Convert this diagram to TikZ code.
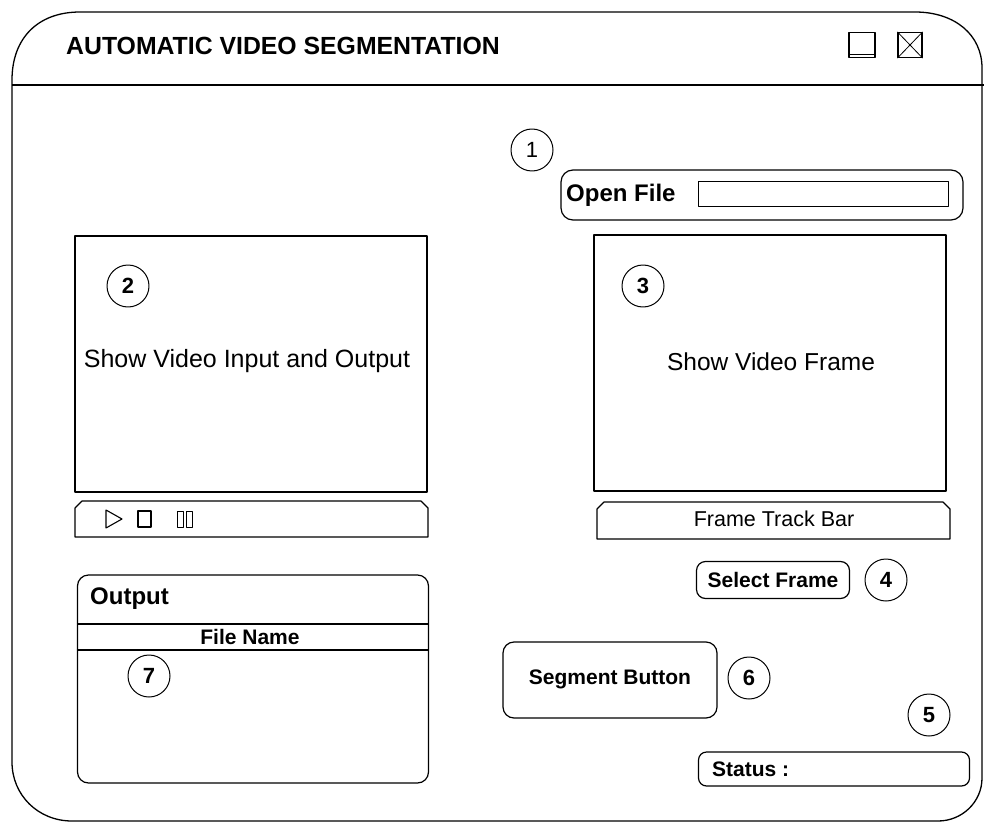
\documentclass[tikz,border=0pt]{standalone}
\usepackage{fontspec}
\setmainfont{Liberation Sans}
\newcommand\pxfont[1]{\fontsize{#1}{#1}\selectfont}
\tikzset{
  frame/.style={line width=1.3pt},
  panel/.style={draw, line width=1.2pt, inner sep=0pt},
  btn/.style={draw, rounded corners=9pt, line width=1.2pt, inner sep=0pt},
  field/.style={draw, line width=0.8pt, inner sep=0pt},
  num/.style={draw, circle, minimum size=42pt, inner sep=0pt, line width=1pt,
              font=\bfseries\pxfont{22}},
  lbl/.style={inner sep=0pt, font=\pxfont{24.5}},
  blbl/.style={inner sep=0pt, font=\bfseries\pxfont{21}},
}
\begin{document}
\begin{tikzpicture}[x=1pt, y=-1pt, line join=round]
\useasboundingbox (0,0) rectangle (984,821);
\fill[white] (0,0) rectangle (984,821);

% window outline
\draw[frame] (12,80) .. controls (12,38) and (38,12) .. (80,12) -- (915,12)
  .. controls (955,12) and (982,35) .. (982,68) -- (982,778)
  .. controls (982,802) and (962,821) .. (938,821) -- (72,821)
  .. controls (38,821) and (12,795) .. (12,762) -- cycle;
% title bar separator
\draw[frame] (12,85) -- (984,85);
\node[anchor=west, inner sep=0pt, font=\bfseries\pxfont{24.8}] (title) at (66,46)
  {AUTOMATIC VIDEO SEGMENTATION};

% window buttons
\node[panel, minimum width=26pt, minimum height=25pt] (maxbtn) at (862,45) {};
\draw[line width=1pt] ([yshift=4pt]maxbtn.south west) -- ([yshift=4pt]maxbtn.south east);
\node[panel, minimum width=24pt, minimum height=25pt] (closebtn) at (910,45) {};
\draw[line width=0.8pt] (closebtn.north west) -- (closebtn.south east)
  (closebtn.north east) -- (closebtn.south west);

% open file row
\node[num] (n1) at (532,150) {\mdseries 1};
\node[btn, rounded corners=12pt, minimum width=402pt, minimum height=50pt] (openrow) at (762,195) {};
\node[anchor=west, inner sep=0pt, font=\bfseries\pxfont{24}] (openlbl) at (566,195) {Open File};
\node[field, minimum width=250pt, minimum height=25pt] (openfld) at (823,194) {};

% video input/output panel
\node[panel, minimum width=352pt, minimum height=256pt] (vidio) at (251,364) {};
\node[num] (n2) at (128,286) {2};
\node[inner sep=0pt, font=\pxfont{25}] (vidiotxt) at (247,361) {Show Video Input and Output};

% player controls bar
\coordinate (cbl) at (75,537);
\coordinate (cbr) at (428,537);
\draw[line width=1.2pt] (cbl) -- (75,508) -- (82,501) -- (421,501) -- (428,508) -- (cbr) -- cycle;
\draw[line width=1.1pt] (106,510) -- (106,528) -- (122,519) -- cycle;
\draw[line width=1.1pt] (138,511) rectangle (151,527);
\draw[line width=1pt] (177,511) rectangle (183,527) (186,511) rectangle (192,527);

% frame panel
\node[panel, minimum width=352pt, minimum height=256pt] (vidfr) at (770,363) {};
\node[num] (n3) at (643,286) {3};
\node[lbl] (vidfrtxt) at (771,362) {Show Video Frame};

% frame track bar
\draw[line width=1.2pt] (597,539) -- (597,509) -- (604,502) -- (943,502) -- (950,509) -- (950,539) -- cycle;
\node[inner sep=0pt, font=\pxfont{21.5}] (track) at (774,519) {Frame Track Bar};

% select frame
\node[btn, minimum width=153pt, minimum height=37pt] (selfr) at (773,580) {};
\node[blbl] (selfrtxt) at (773,580) {Select Frame};
\node[num] (n4) at (886,580) {4};

% output list
\node[btn, rounded corners=11pt, minimum width=351pt, minimum height=208pt] (outbox) at (253,679) {};
\node[anchor=west, inner sep=0pt, font=\bfseries\pxfont{24}] (outlbl) at (90,599) {Output};
\draw[line width=1.2pt] (outbox.west |- 0,624) -- (outbox.east |- 0,624);
\draw[line width=1.2pt] (outbox.west |- 0,650) -- (outbox.east |- 0,650);
\node[blbl] (fname) at (250,637) {File Name};
\node[num] (n7) at (149,676) {7};

% segment button
\node[btn, rounded corners=11pt, minimum width=214pt, minimum height=76pt] (segbtn) at (610,680) {};
\node[blbl] (segtxt) at (610,679) {Segment Button};
\node[num] (n6) at (749,678) {6};

% status bar
\node[num] (n5) at (929,715) {5};
\node[btn, rounded corners=8pt, minimum width=271pt, minimum height=34pt] (status) at (834,769) {};
\node[blbl, anchor=west] (stattxt) at (712,769) {Status :};
\end{tikzpicture}
\end{document}
